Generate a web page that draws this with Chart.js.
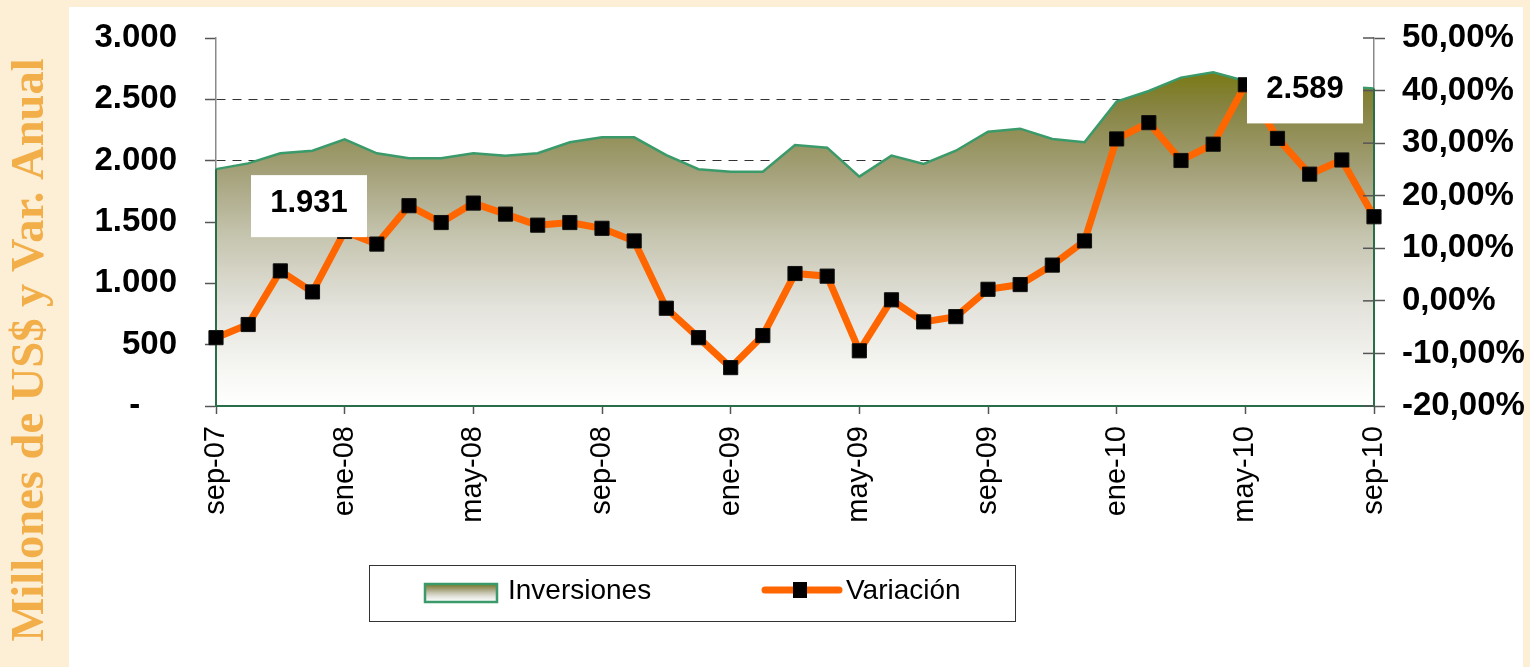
<!DOCTYPE html>
<html><head><meta charset="utf-8">
<script src="https://cdn.jsdelivr.net/npm/chart.js@4.4.1/dist/chart.umd.min.js"></script>
<style>html,body{margin:0;padding:0;background:#fdeed6;overflow:hidden}canvas{display:block}</style>
</head><body>
<canvas id="c" width="1530" height="667"></canvas>
<script>
const categories = ['sep-07','oct-07','nov-07','dic-07','ene-08','feb-08','mar-08','abr-08','may-08','jun-08','jul-08','ago-08','sep-08','oct-08','nov-08','dic-08','ene-09','feb-09','mar-09','abr-09','may-09','jun-09','jul-09','ago-09','sep-09','oct-09','nov-09','dic-09','ene-10','feb-10','mar-10','abr-10','may-10','jun-10','jul-10','ago-10','sep-10'];
const inversiones = [1931,1978,2060,2081,2174,2060,2019,2019,2060,2041,2060,2150,2190,2190,2046,1930,1910,1910,2128,2106,1870,2041,1973,2081,2236,2261,2177,2150,2481,2568,2677,2720,2650,2630,2615,2605,2589];
const variacion = [-7.0,-4.5,5.7,1.7,13.2,10.8,18.1,14.9,18.6,16.5,14.4,14.9,13.8,11.4,-1.4,-7.0,-12.7,-6.6,5.2,4.7,-9.5,0.2,-4.0,-3.0,2.2,3.1,6.8,11.4,30.8,33.9,26.7,29.8,41.1,30.9,24.1,26.8,16.0];
const leftTickValues = [0,500,1000,1500,2000,2500,3000];
const rightTickValues = [-20,-10,0,10,20,30,40,50];
const seriesNames = ['Inversiones','Variación'];
const yTitle = 'Millones de US$ y Var. Anual';
const labelledPoints = [0, 36];

const fmtThousands = v => v === 0 ? '-    ' : String(v).replace(/\B(?=(\d{3})+(?!\d))/g, '.');
const fmtPct = v => v.toFixed(2).replace('.', ',') + '%';
const SANS = '"Liberation Sans", Arial, sans-serif';

function areaGradient(ctx, top, bottom) {
  const g = ctx.createLinearGradient(0, top, 0, bottom);
  g.addColorStop(0, '#7a7a14');
  g.addColorStop(0.1, '#868340');
  g.addColorStop(0.3, '#a4a17a');
  g.addColorStop(0.5, '#c7c6b1');
  g.addColorStop(0.7, '#e3e2db');
  g.addColorStop(0.9, '#f7f7f4');
  g.addColorStop(1, '#ffffff');
  return g;
}

const bgPlugin = {
  id: 'bg',
  beforeDraw(chart) {
    const c = chart.ctx;
    c.save();
    c.fillStyle = '#fdeed6';
    c.fillRect(0, 0, chart.width, chart.height);
    c.fillStyle = '#ffffff';
    c.fillRect(69, 7, 1454, 660);
    c.fillStyle = '#f2ae48';
    c.font = 'bold 46.5px "Liberation Serif", "Times New Roman", serif';
    c.translate(43, 350);
    c.rotate(-Math.PI / 2);
    c.textAlign = 'center';
    c.textBaseline = 'alphabetic';
    c.fillText(yTitle, 0, 0);
    c.restore();
  }
};

const edgePlugin = {
  id: 'edges',
  afterDatasetDraw(chart, args) {
    if (args.index !== 0) return;
    const meta = chart.getDatasetMeta(0);
    const pts = meta.data;
    const base = chart.scales.y.getPixelForValue(0);
    const c = chart.ctx;
    c.save();
    c.strokeStyle = '#2a6e48';
    c.lineWidth = 2;
    c.beginPath();
    c.moveTo(pts[0].x, pts[0].y);
    c.lineTo(pts[0].x, base);
    c.lineTo(pts[pts.length - 1].x, base);
    c.lineTo(pts[pts.length - 1].x, pts[pts.length - 1].y);
    c.stroke();
    c.restore();
  },
  afterDatasetsDraw(chart) {
    const c = chart.ctx;
    const y2 = chart.scales.y2;
    c.save();
    c.strokeStyle = '#555';
    c.lineWidth = 1.5;
    y2.ticks.forEach(t => {
      const py = y2.getPixelForValue(t.value);
      c.beginPath();
      c.moveTo(y2.left - 11, py);
      c.lineTo(y2.left, py);
      c.stroke();
    });
    const meta = chart.getDatasetMeta(0);
    c.font = 'bold 31px ' + SANS;
    c.textAlign = 'center';
    c.textBaseline = 'middle';
    labelledPoints.forEach((idx, k) => {
      const p = meta.data[idx];
      const bx = k === 0 ? p.x + 35 : p.x - 127;
      const by = k === 0 ? p.y + 6 : p.y - 27;
      c.fillStyle = '#ffffff';
      c.fillRect(bx, by, 116, 62);
      c.fillStyle = '#000';
      c.fillText(fmtThousands(inversiones[idx]), bx + 58, by + 28);
    });
    c.restore();
  },
  afterDraw(chart) {
    const c = chart.ctx;
    c.save();
    c.strokeStyle = '#333';
    c.lineWidth = 1;
    c.strokeRect(369.5, 565.5, 646, 56);
    c.fillStyle = areaGradient(c, 584, 602);
    c.fillRect(425, 584, 72, 18);
    c.strokeStyle = '#3a9a6a';
    c.lineWidth = 2.5;
    c.strokeRect(425, 584, 72, 18);
    c.fillStyle = '#000';
    c.font = '28px ' + SANS;
    c.textAlign = 'left';
    c.textBaseline = 'middle';
    c.fillText(seriesNames[0], 508, 591);
    c.strokeStyle = '#ff6600';
    c.lineWidth = 7;
    c.lineCap = 'round';
    c.beginPath();
    c.moveTo(765, 590);
    c.lineTo(839, 590);
    c.stroke();
    c.fillStyle = '#000';
    c.fillRect(793, 582, 14, 16);
    c.fillText(seriesNames[1], 846, 591);
    c.restore();
  }
};

new Chart(document.getElementById('c'), {
  type: 'line',
  data: {
    labels: categories,
    datasets: [
      {
        label: seriesNames[0],
        data: inversiones,
        yAxisID: 'y',
        order: 2,
        borderColor: '#3a9a6a',
        borderWidth: 2.5,
        pointRadius: 0,
        tension: 0,
        fill: 'origin',
        backgroundColor: (ctx) => {
          const ch = ctx.chart;
          if (!ch.chartArea) return '#c7c6b1';
          const top = ch.scales.y.getPixelForValue(Math.max(...inversiones));
          const bottom = ch.scales.y.getPixelForValue(0);
          return areaGradient(ch.ctx, top, bottom);
        }
      },
      {
        label: seriesNames[1],
        data: variacion,
        yAxisID: 'y2',
        order: 1,
        borderColor: '#ff6600',
        borderWidth: 7,
        tension: 0,
        fill: false,
        clip: false,
        pointStyle: 'rect',
        pointRadius: 10,
        pointBackgroundColor: '#000',
        pointBorderColor: '#111',
        pointBorderWidth: 1
      }
    ]
  },
  options: {
    responsive: false,
    animation: false,
    devicePixelRatio: 1,
    layout: { padding: { top: 38, left: 0, right: 0, bottom: 0 } },
    plugins: { legend: { display: false }, tooltip: { enabled: false } },
    scales: {
      x: {
        offset: false,
        grid: {
          drawOnChartArea: false, drawTicks: true, tickLength: 8, tickWidth: 1.5,
          tickColor: (ctx) => ctx.index % 4 === 0 ? '#555' : 'rgba(0,0,0,0)'
        },
        border: { color: '#2a6e48', width: 2 },
        ticks: {
          autoSkip: false, minRotation: 90, maxRotation: 90, padding: 12, color: '#000',
          font: { family: SANS, size: 29 },
          callback: function (v, i) { return i % 4 === 0 ? this.getLabelForValue(v) : ''; }
        },
        afterFit: (s) => { s.height = 261; }
      },
      y: {
        position: 'left',
        min: leftTickValues[0],
        max: leftTickValues[leftTickValues.length - 1],
        afterBuildTicks: (s) => { s.ticks = leftTickValues.map(v => ({ value: v })); },
        grid: {
          color: (ctx) => (ctx.tick && (ctx.tick.value === 0 || ctx.tick.value === 3000)) ? 'rgba(0,0,0,0)' : '#333',
          lineWidth: 1, tickLength: 11, tickColor: '#555', tickWidth: 1.5
        },
        border: { color: '#8a8a8a', width: 1.5, dash: [9, 7] },
        ticks: {
          padding: 28, color: '#000',
          font: { family: SANS, size: 33, weight: 'bold' },
          callback: (v) => fmtThousands(v)
        },
        afterFit: (s) => { s.width = 216; s.paddingTop = 0; s.paddingBottom = 0; }
      },
      y2: {
        position: 'right',
        min: rightTickValues[0],
        max: rightTickValues[rightTickValues.length - 1],
        afterBuildTicks: (s) => { s.ticks = rightTickValues.map(v => ({ value: v })); },
        grid: { drawOnChartArea: false, tickLength: 11, tickColor: '#555', tickWidth: 1.5 },
        border: { color: '#8a8a8a', width: 1.5 },
        ticks: {
          padding: 17, color: '#000',
          font: { family: SANS, size: 33, weight: 'bold' },
          callback: (v) => fmtPct(v)
        },
        afterFit: (s) => { s.width = 156; s.paddingTop = 0; s.paddingBottom = 0; }
      }
    }
  },
  plugins: [bgPlugin, edgePlugin]
});
</script>
</body></html>
